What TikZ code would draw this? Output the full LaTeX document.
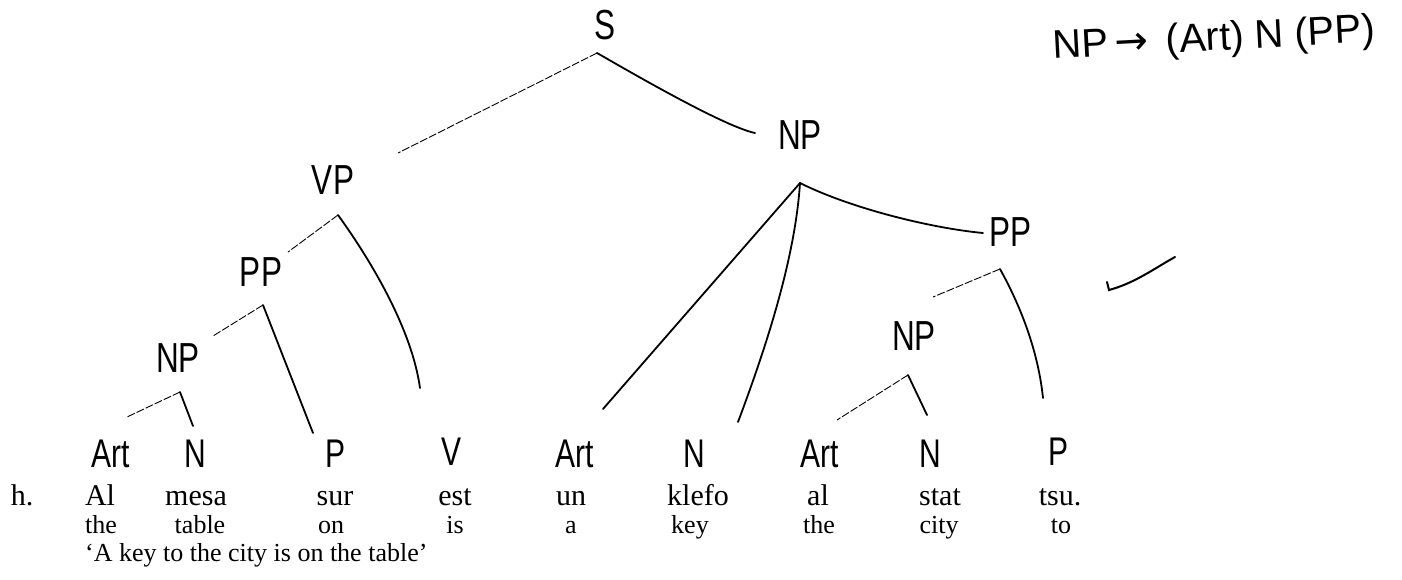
\documentclass[tikz,border=0pt]{standalone}
\usepackage{fontspec}
\setmainfont{Liberation Serif}
\newfontfamily\handfont[FakeStretch=0.75]{Liberation Sans}
\newfontfamily\rulefont{Liberation Sans}
\newfontfamily\arrowfont{DejaVu Sans}
\usetikzlibrary{arrows.meta}
\tikzset{
  catlabel/.style={inner sep=1pt, font=\handfont\fontsize{40}{40}\selectfont},
  phraselabel/.style={catlabel, font=\handfont\fontsize{42}{42}\selectfont},
  rulelabel/.style={inner sep=1pt, font=\rulefont\fontsize{40}{40}\selectfont},
  wordnode/.style={anchor=base, inner sep=0pt, font=\fontsize{30}{30}\selectfont},
  glossnode/.style={anchor=base, inner sep=0pt, font=\fontsize{26}{26}\selectfont},
  branch/.style={line width=1.8pt, line cap=round},
  faintbranch/.style={line width=0.9pt, dash pattern=on 8pt off 2pt}
}
\begin{document}
\begin{tikzpicture}[x=1pt, y=-1pt]
    \useasboundingbox[fill=white] (0,0) rectangle (1402,579);

    % phrase labels
    \node[phraselabel] (s) at (605,25) {S};
    \node[phraselabel] (vp) at (333,180) {VP};
    \node[phraselabel] (np) at (800,135) {NP};
    \node[phraselabel] (ppv) at (261,272) {PP};
    \node[phraselabel] (npv) at (178,358) {NP};
    \node[phraselabel] (ppn) at (1010,232) {PP};
    \node[phraselabel] (npp) at (914,336) {NP};

    % word categories
    \node[catlabel] (artA) at (111,454) {Art};
    \node[catlabel] (nA) at (195,454) {N};
    \node[catlabel] (pA) at (336,454) {P};
    \node[catlabel] (v) at (451,452) {V};
    \node[catlabel] (artB) at (575,454) {Art};
    \node[catlabel] (nB) at (694,454) {N};
    \node[catlabel] (artC) at (820,454) {Art};
    \node[catlabel] (nC) at (930,454) {N};
    \node[catlabel] (pC) at (1058,452) {P};

    % example sentence
    \node[wordnode] (ex) at (22,505) {h.};
    \node[wordnode] (wAl) at (100,505) {Al};
    \node[wordnode] (wMesa) at (196,505) {mesa};
    \node[wordnode] (wSur) at (335,505) {sur};
    \node[wordnode] (wEst) at (455,505) {est};
    \node[wordnode] (wUn) at (571,505) {un};
    \node[wordnode] (wKlefo) at (698,505) {klefo};
    \node[wordnode] (wal) at (818,505) {al};
    \node[wordnode] (wStat) at (940,505) {stat};
    \node[wordnode] (wTsu) at (1060,505) {tsu.};

    \node[glossnode] (gThe) at (101,533) {the};
    \node[glossnode] (gTable) at (200,533) {table};
    \node[glossnode] (gOn) at (331,533) {on};
    \node[glossnode] (gIs) at (455,533) {is};
    \node[glossnode] (gA) at (571,533) {a};
    \node[glossnode] (gKey) at (690,533) {key};
    \node[glossnode] (gthe) at (819,533) {the};
    \node[glossnode] (gCity) at (939,533) {city};
    \node[glossnode] (gTo) at (1061,533) {to};
    \node[glossnode, anchor=base west] (trans) at (85,561) {‘A key to the city is on the table’};

    % rule
    \node[rulelabel, rotate=3] (rule) at (1214,40) {NP\,{\arrowfont →}\, (Art) N (PP)};

    % branch points
    \coordinate (s-out) at (597,53);
    \coordinate (vp-in) at (398,153);
    \coordinate (np-in) at (755,133);
    \coordinate (vp-out) at (338,215);
    \coordinate (ppv-in) at (288,252);
    \coordinate (v-in) at (420,388);
    \coordinate (ppv-out) at (263,305);
    \coordinate (npv-in) at (213,336);
    \coordinate (pA-in) at (313,433);
    \coordinate (npv-out) at (180,392);
    \coordinate (artA-in) at (127,417);
    \coordinate (nA-in) at (193,426);
    \coordinate (np-out) at (800,183);
    \coordinate (artB-in) at (603,409);
    \coordinate (nB-in) at (738,422);
    \coordinate (ppn-in) at (983,233);
    \coordinate (ppn-out) at (1000,269);
    \coordinate (npp-in) at (933,297);
    \coordinate (pC-in) at (1043,398);
    \coordinate (npp-out) at (908,375);
    \coordinate (artC-in) at (837,420);
    \coordinate (nC-in) at (927,415);

    % branches
    \draw[faintbranch] (s-out) -- (vp-in);
    \draw[branch] (s-out) .. controls (620,66) and (722,126) .. (np-in);
    \draw[faintbranch] (vp-out) -- (ppv-in);
    \draw[branch] (vp-out) .. controls (372,262) and (412,330) .. (v-in);
    \draw[faintbranch] (ppv-out) -- (npv-in);
    \draw[branch] (ppv-out) -- (pA-in);
    \draw[faintbranch] (npv-out) -- (artA-in);
    \draw[branch] (npv-out) -- (nA-in);
    \draw[branch] (np-out) -- (artB-in);
    \draw[branch] (np-out) .. controls (795,260) and (765,350) .. (nB-in);
    \draw[branch] (np-out) .. controls (850,208) and (930,228) .. (ppn-in);
    \draw[faintbranch] (ppn-out) -- (npp-in);
    \draw[branch] (ppn-out) .. controls (1020,305) and (1038,350) .. (pC-in);
    \draw[faintbranch] (npp-out) -- (artC-in);
    \draw[branch] (npp-out) -- (nC-in);

    % check mark
    \draw[branch, line width=2pt] (1107,282) -- (1109,290) .. controls (1135,283) and (1155,268) .. (1175,257);
\end{tikzpicture}
\end{document}
